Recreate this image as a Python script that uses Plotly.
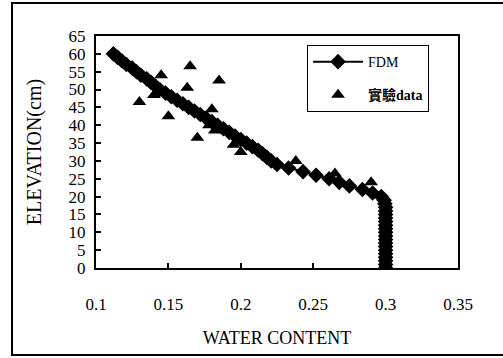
import plotly.graph_objects as go

# FDM simulated profile: elevation (cm) and water content
fdm_elev = list(range(0, 61))
fdm_wc = [
    0.300, 0.300, 0.300, 0.300, 0.300, 0.300, 0.300, 0.300, 0.300, 0.300,  # 0-9
    0.300, 0.300, 0.300, 0.300, 0.300, 0.300, 0.300, 0.300, 0.2995, 0.299,  # 10-19
    0.297, 0.291, 0.284, 0.275, 0.268, 0.261, 0.252, 0.243, 0.233, 0.225,  # 20-29
    0.221, 0.218, 0.215, 0.212, 0.208, 0.204, 0.200, 0.196, 0.192, 0.188,  # 30-39
    0.184, 0.180, 0.176, 0.172, 0.168, 0.164, 0.160, 0.156, 0.152, 0.148,  # 40-49
    0.144, 0.141, 0.138, 0.135, 0.131, 0.128, 0.125, 0.121, 0.118, 0.115,  # 50-59
    0.112,                                                                   # 60
]

# Experimental data
exp_wc = [0.130, 0.140, 0.145, 0.150, 0.165, 0.163, 0.170, 0.185, 0.180, 0.178,
          0.182, 0.195, 0.200, 0.238, 0.265, 0.290]
exp_elev = [46.5, 48.5, 54.0, 42.5, 56.5, 50.5, 36.5, 52.5, 44.5, 40.0,
            38.5, 34.5, 32.5, 30.0, 26.5, 24.0]

x_ticks = [0.1, 0.15, 0.2, 0.25, 0.3, 0.35]
y_ticks = list(range(0, 66, 5))

SERIF = "Liberation Serif, Times New Roman, Noto Sans CJK TC, serif"

fig = go.Figure()
fig.add_trace(go.Scatter(
    x=fdm_wc, y=fdm_elev, mode="lines+markers", name="FDM",
    line=dict(color="black", width=2),
    marker=dict(symbol="diamond", size=12, color="black"),
    legendgroup="a",
))
fig.add_trace(go.Scatter(
    x=exp_wc, y=exp_elev, mode="markers", name="<b>實驗data</b>",
    marker=dict(symbol="triangle-up", size=12, color="black"),
    legendgroup="b",
))

axis_common = dict(
    showgrid=False, zeroline=False, showline=True, linecolor="black",
    linewidth=2, mirror=True, ticks="inside", ticklen=5, tickcolor="black",
    tickwidth=2, tickfont=dict(family=SERIF, size=17, color="black"),
)

fig.update_layout(
    width=503, height=358,
    margin=dict(l=96, r=45, t=36, b=90),
    paper_bgcolor="white", plot_bgcolor="white",
    font=dict(family=SERIF, color="black"),
    showlegend=True,
    legend=dict(
        x=0.583, y=0.961, xanchor="left", yanchor="top",
        bordercolor="black", borderwidth=1, bgcolor="white",
        font=dict(family=SERIF, size=14, color="black"),
        tracegroupgap=12, itemwidth=50, entrywidth=110, entrywidthmode="pixels",
    ),
    xaxis=dict(
        range=[0.1, 0.35], tickvals=x_ticks,
        ticktext=[str(v) for v in x_ticks], ticklabelstandoff=20,
        title=dict(text="WATER CONTENT", font=dict(family=SERIF, size=18), standoff=18),
        **axis_common,
    ),
    yaxis=dict(
        range=[0, 65], tickvals=y_ticks, ticklabelstandoff=5,
        title=dict(text="ELEVATION(cm)", font=dict(family=SERIF, size=20), standoff=22),
        **axis_common,
    ),
    shapes=[dict(
        type="rect", xref="paper", yref="paper",
        x0=-0.232, x1=1.25, y0=-0.375, y1=1.142,
        line=dict(color="black", width=2), layer="below",
    )],
)

fig.write_html("out.html")
